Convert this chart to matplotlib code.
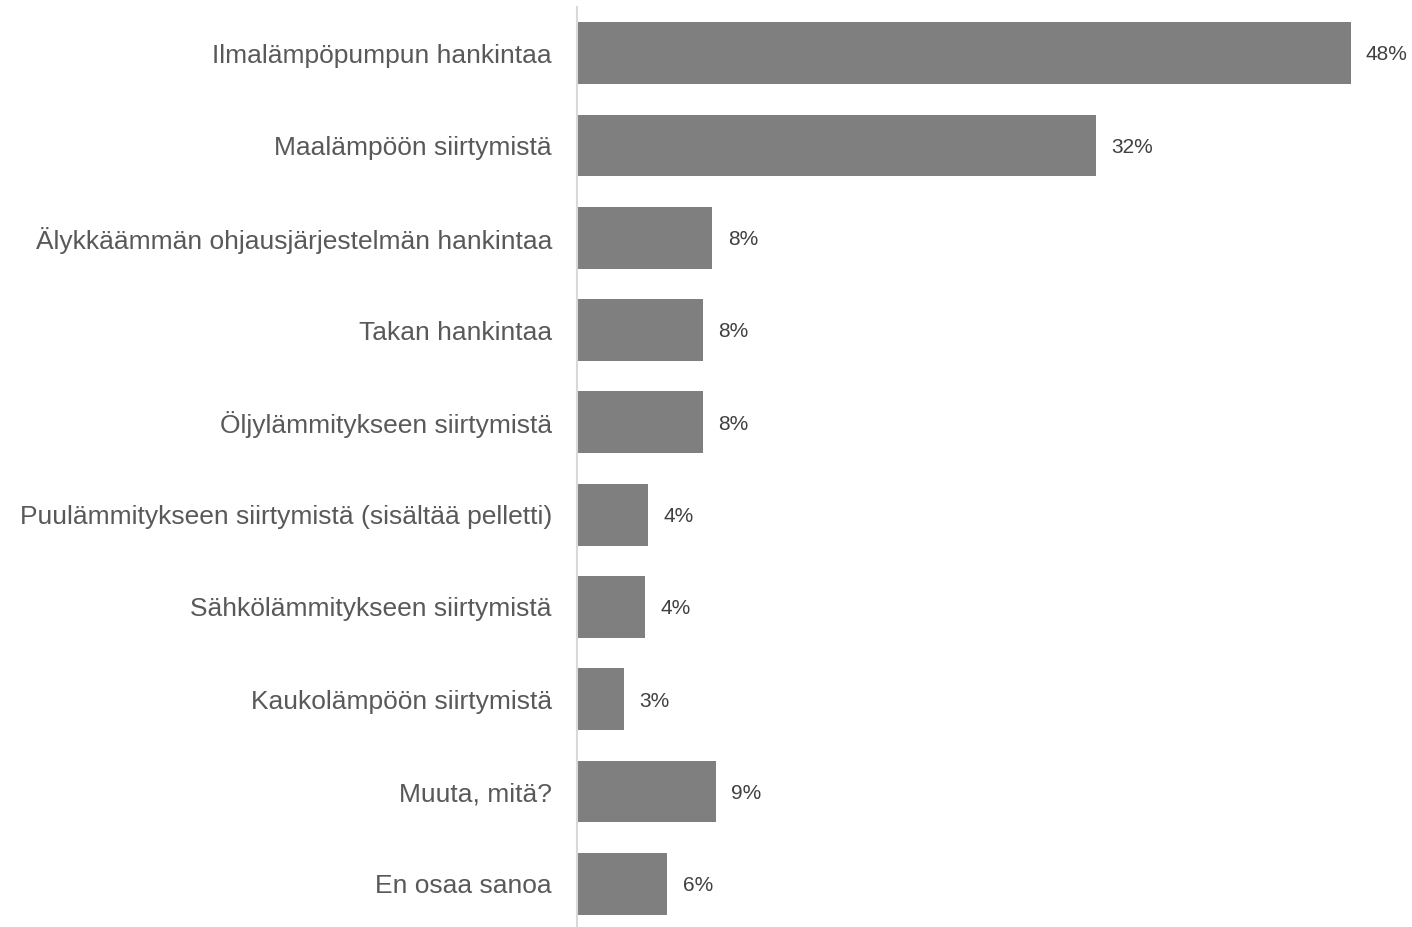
import matplotlib
matplotlib.use("Agg")
import matplotlib.pyplot as plt

categories = [
    "Ilmalämpöpumpun hankintaa",
    "Maalämpöön siirtymistä",
    "Älykkäämmän ohjausjärjestelmän hankintaa",
    "Takan hankintaa",
    "Öljylämmitykseen siirtymistä",
    "Puulämmitykseen siirtymistä (sisältää pelletti)",
    "Sähkölämmitykseen siirtymistä",
    "Kaukolämpöön siirtymistä",
    "Muuta, mitä?",
    "En osaa sanoa",
]
values = [48.0, 32.2, 8.4, 7.8, 7.8, 4.4, 4.2, 2.9, 8.6, 5.6]

plt.rcParams['font.family'] = ['Liberation Sans', 'DejaVu Sans']

W, H = 1412, 927
fig = plt.figure(figsize=(W / 100, H / 100), dpi=100)
left_px, right_px = 577, 1399
top_px, bot_px = 7, 930
ax = fig.add_axes([left_px / W, 1 - bot_px / H, (right_px - left_px) / W, (bot_px - top_px) / H])

n = len(categories)
ypos = list(range(n))
ax.barh(ypos, values, height=0.67, color="#7f7f7f", zorder=2)
ax.set_xlim(0, 51)
ax.set_ylim(n - 0.5, -0.5)

for y, v in zip(ypos, values):
    ax.text(v + 0.95, y + 0.02, f"{v:.0f}%", va="center", ha="left", fontsize=15,
            color="#404040", clip_on=False)

ax.set_yticks(ypos)
ax.set_yticklabels(categories, fontsize=19, color="#595959")
ax.tick_params(axis="y", length=0, pad=18)
ax.set_xticks([])
for s in ["top", "right", "bottom"]:
    ax.spines[s].set_visible(False)
ax.spines["left"].set_color("#d9d9d9")
ax.spines["left"].set_linewidth(1.5)

fig.savefig("out.png", dpi=100)
